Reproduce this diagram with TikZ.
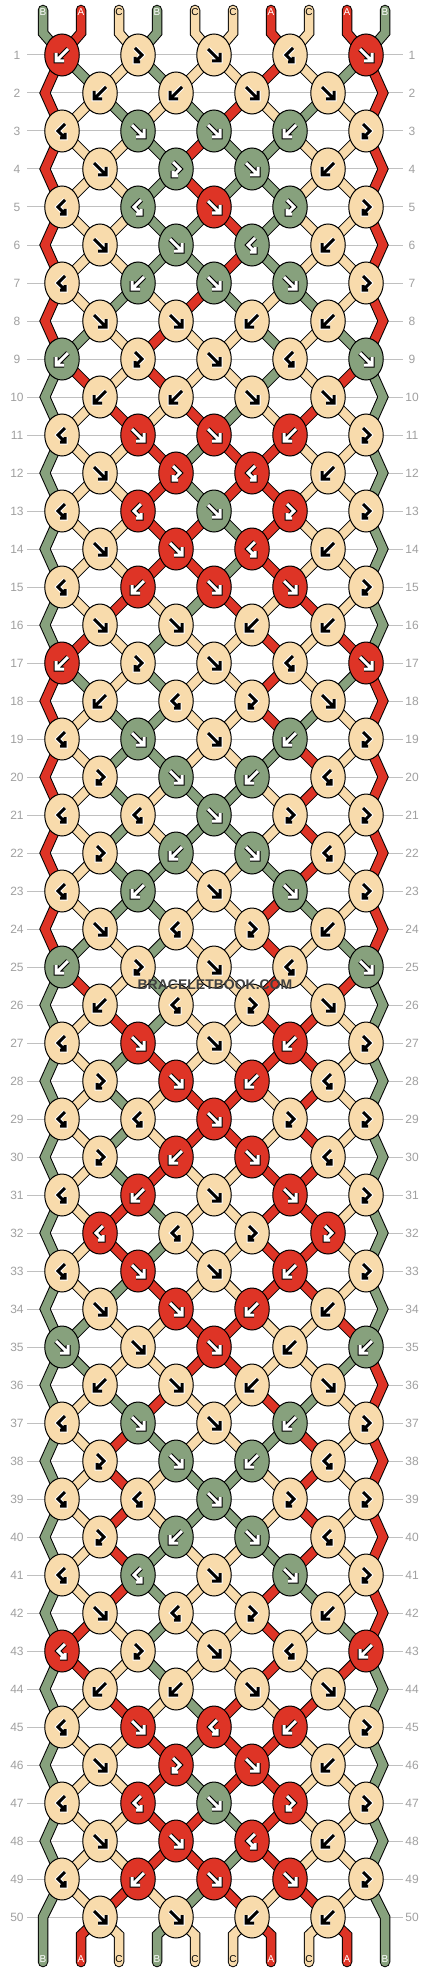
\documentclass[tikz,border=0pt]{standalone}
\usepackage{fontspec}
\setmainfont{Liberation Sans}
\usetikzlibrary{shapes.geometric}
\definecolor{colA}{RGB}{222,52,38}
\definecolor{colB}{RGB}{135,161,125}
\definecolor{colC}{RGB}{248,219,172}
\definecolor{gridgray}{RGB}{192,192,192}
\definecolor{numgray}{RGB}{160,160,160}
\definecolor{wmgray}{RGB}{64,64,64}
\newcount\pmode
\newcommand\getst[1]{\csname stx#1\endcsname}
\newcommand\putst[2]{\expandafter\xdef\csname stx#1\endcsname{#2}}
\newcommand\getnx[1]{\csname nxx#1\endcsname}
\newcommand\putnx[2]{\expandafter\xdef\csname nxx#1\endcsname{#2}}
\newcommand\initstate{\putst{1}{B}\putst{2}{A}\putst{3}{C}\putst{4}{B}\putst{5}{C}%
  \putst{6}{C}\putst{7}{A}\putst{8}{C}\putst{9}{A}\putst{10}{B}}
\tikzset{
  knot/.style={ellipse, draw=black, line width=1pt, minimum width=34.5pt, minimum height=42pt, inner sep=0pt},
  segO/.style={line width=10.5pt, draw=black, line join=miter},
  segI/.style={line width=8.5pt, line join=miter},
  gO/.style={line width=5pt, line join=miter, line cap=butt},
  gI/.style={line width=3pt, line join=miter, line cap=butt},
  gridline/.style={draw=gridgray, line width=1pt},
  rownum/.style={text=numgray, font=\fontsize{12}{12}\selectfont, inner sep=0pt},
  strlab/.style={font=\fontsize{10}{10}\selectfont, inner sep=0pt},
}
\newcommand\seg[1]{%
  \ifnum\pmode=1 \draw[segO] #1;\fi
  \ifnum\pmode=2 \draw[segI,draw=\segcol] #1;\fi}
\newcommand\segr[1]{%
  \ifnum\pmode=1 \draw[segO,line cap=round] #1;\fi
  \ifnum\pmode=2 \draw[segI,line cap=round,draw=\segcol] #1;\fi}
\newcommand\knotglyph[3]{%
  \if#3C\def\gfg{black}\def\gbg{white}\else\def\gfg{white}\def\gbg{black}\fi
  \begin{scope}[shift={(#1.center)}]
    \if#2f\def\gp{(-6,-6) -- (6,6) (6,-2) -- (6,6) -- (-2,6)}\fi
    \if#2b\def\gp{(6,-6) -- (-6,6) (-6,-2) -- (-6,6) -- (2,6)}\fi
    \if#2F\def\gp{(-3,-7) -- (4,0) -- (-3,7) (-3,2) -- (-3,7) -- (2,7)}\fi
    \if#2S\def\gp{(3,-7) -- (-4,0) -- (3,7) (3,2) -- (3,7) -- (-2,7)}\fi
    \draw[gO,draw=\gbg] \gp;
    \draw[gI,draw=\gfg] \gp;
  \end{scope}}
\newcommand\strlabel[3]{%
  \if#3C\def\lcol{black}\else\def\lcol{white}\fi
  \node[strlab,text=\lcol] (#1) at #2 {#3};}
\newcommand\dorows{%
\initstate
\foreach \r/\codes in {
1/{b,F,f,S,f},2/{b,b,f,f},3/{S,f,f,b,F},4/{f,F,f,b},5/{S,S,f,F,F},
6/{f,f,S,b},7/{S,b,f,f,F},8/{f,f,b,b},9/{b,F,f,S,f},10/{b,b,f,f},
11/{S,f,f,b,F},12/{f,F,S,b},13/{S,S,f,F,F},14/{f,f,S,b},15/{S,b,f,f,F},
16/{f,f,b,b},17/{b,F,f,S,f},18/{b,S,F,f},19/{S,f,f,b,F},20/{F,f,b,S},
21/{S,S,f,F,F},22/{F,b,f,S},23/{S,b,f,f,F},24/{f,S,F,b},25/{b,F,f,S,f},
26/{b,S,F,f},27/{S,f,f,b,F},28/{F,f,b,S},29/{S,S,f,F,F},30/{F,b,f,S},
31/{S,b,f,f,F},32/{S,S,F,F},33/{S,f,f,b,F},34/{f,f,b,b},35/{f,f,f,b,b},
36/{b,f,b,f},37/{S,f,f,b,F},38/{F,f,b,S},39/{S,S,f,F,F},40/{F,b,f,S},
41/{S,S,f,f,F},42/{f,S,F,b},43/{S,F,f,S,b},44/{b,b,f,f},45/{S,f,S,b,F},
46/{f,F,f,b},47/{S,S,f,F,F},48/{f,f,S,b},49/{S,b,f,f,F},50/{f,f,b,b}}{
  \pgfmathtruncatemacro{\rodd}{mod(\r,2)}
  \pgfmathtruncatemacro{\rp}{\r-1}
  \pgfmathtruncatemacro{\rpp}{\r-2}
  \pgfmathsetmacro{\ky}{17+38*\r}
  \foreach \p in {1,...,10}{\putnx{\p}{\getst{\p}}}
  \foreach \t [count=\i] in \codes {
    \ifnum\rodd=1
      \pgfmathtruncatemacro{\pl}{2*\i-1}\pgfmathsetmacro{\kx}{76*\i-14}
    \else
      \pgfmathtruncatemacro{\pl}{2*\i}\pgfmathsetmacro{\kx}{76*\i+24}
    \fi
    \pgfmathtruncatemacro{\pr}{\pl+1}
    \edef\lc{\getst{\pl}}\edef\rc{\getst{\pr}}
    \if\t f\edef\kc{\lc}\putnx{\pl}{\rc}\putnx{\pr}{\lc}\fi
    \if\t b\edef\kc{\rc}\putnx{\pl}{\rc}\putnx{\pr}{\lc}\fi
    \if\t F\edef\kc{\lc}\fi
    \if\t S\edef\kc{\rc}\fi
    \edef\kfill{col\kc}
    \ifnum\pmode=1 \coordinate (c-\r-\i) at (\kx,\ky);\fi
    \ifnum\pmode=3
      \node[knot,fill=\kfill] (k-\r-\i) at (c-\r-\i) {};
      \knotglyph{k-\r-\i}{\t}{\kc}
    \fi
  }
  \ifnum\r=1
    \foreach \p in {1,...,10}{
      \pgfmathsetmacro{\sx}{43+38*(\p-1)}
      \pgfmathtruncatemacro{\ic}{int((\p+1)/2)}
      \edef\segcol{col\getst{\p}}
      \edef\sl{\getst{\p}}
      \ifnum\pmode=1
        \coordinate (ts-\p) at (\sx,10);
        \coordinate (tb-\p) at (\sx,33);
      \fi
      \segr{(ts-\p) -- (tb-\p) -- (c-1-\ic)}
      \ifnum\pmode=3 \strlabel{tl-\p}{(\sx,12.5)}{\sl}\fi
    }
  \else
    \ifnum\rodd=1
      \foreach \p in {2,...,9}{
        \pgfmathtruncatemacro{\ic}{int((\p+1)/2)}
        \pgfmathtruncatemacro{\ifl}{int(\p/2)}
        \edef\segcol{col\getst{\p}}
        \seg{(c-\rp-\ifl) -- (c-\r-\ic)}
      }
      \edef\segcol{col\getst{1}}
      \seg{(c-\rpp-1) -- (e-\rp-L) -- (c-\r-1)}
      \edef\segcol{col\getst{10}}
      \seg{(c-\rpp-5) -- (e-\rp-R) -- (c-\r-5)}
    \else
      \ifnum\pmode=1
        \ifnum\r=50
          \coordinate (e-\r-L) at (43,\ky); \coordinate (e-\r-R) at (385,\ky);
        \else
          \coordinate (e-\r-L) at (45,\ky); \coordinate (e-\r-R) at (383,\ky);
        \fi
      \fi
      \foreach \p in {2,...,9}{
        \pgfmathtruncatemacro{\ic}{int((\p+1)/2)}
        \pgfmathtruncatemacro{\ifl}{int(\p/2)}
        \edef\segcol{col\getst{\p}}
        \seg{(c-\rp-\ic) -- (c-\r-\ifl)}
      }
    \fi
  \fi
  \foreach \p in {1,...,10}{\putst{\p}{\getnx{\p}}}
}%
\foreach \p in {1,...,10}{
  \pgfmathsetmacro{\sx}{43+38*(\p-1)}
  \pgfmathtruncatemacro{\ifl}{int(\p/2)}
  \edef\segcol{col\getst{\p}}
  \edef\sl{\getst{\p}}
  \ifnum\pmode=1
    \coordinate (bs-\p) at (\sx,1962);
    \coordinate (bb-\p) at (\sx,1935);
  \fi
  \ifnum\p=1
    \segr{(c-49-1) -- (e-50-L) -- (bs-1)}
  \else\ifnum\p=10
    \segr{(c-49-5) -- (e-50-R) -- (bs-10)}
  \else
    \segr{(c-50-\ifl) -- (bb-\p) -- (bs-\p)}
  \fi\fi
  \ifnum\pmode=3 \strlabel{bl-\p}{(\sx,1959)}{\sl}\fi
}}
\begin{document}
\begin{tikzpicture}[x=1pt,y=-1pt]
\useasboundingbox (0,0) rectangle (430,1972);
\fill[white] (0,0) rectangle (430,1972);
\foreach \r in {1,...,50}{
  \pgfmathsetmacro{\ky}{17+38*\r}
  \draw[gridline] (27,\ky) coordinate (gl-\r) -- (403,\ky) coordinate (gr-\r);
  \node[rownum] (ln-\r) at (17,\ky) {\r};
  \node[rownum] (rn-\r) at (412,\ky) {\r};
}
\global\pmode=1 \dorows
\global\pmode=2 \dorows
\global\pmode=3 \dorows
\node[text=wmgray, font=\bfseries\fontsize{14}{14}\selectfont, inner sep=0pt] (wm) at (215,985) {BRACELETBOOK.COM};
\end{tikzpicture}
\end{document}
